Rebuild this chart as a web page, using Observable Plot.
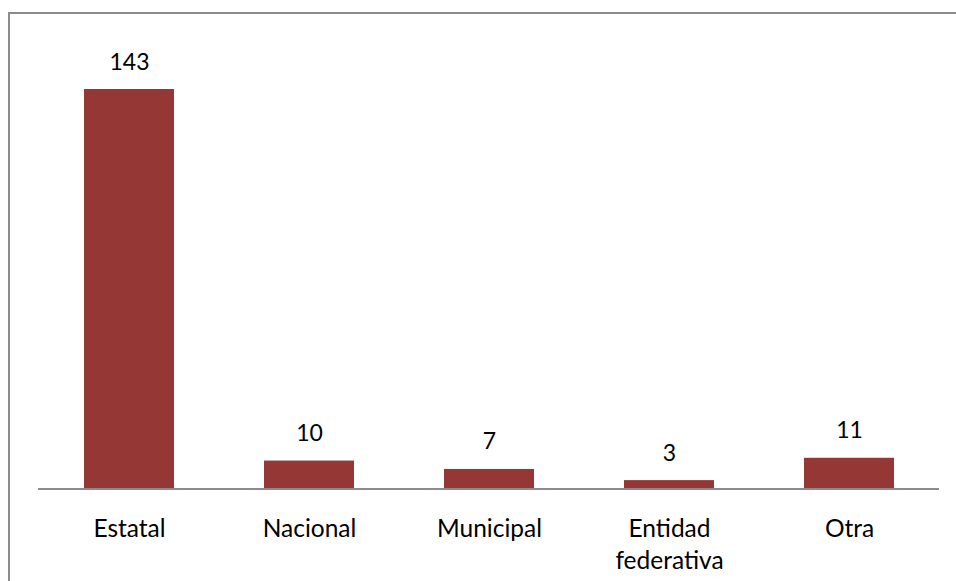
<!DOCTYPE html>
<html>
<head>
<meta charset="utf-8">
<script src="https://cdn.jsdelivr.net/npm/d3@7"></script>
<script src="https://cdn.jsdelivr.net/npm/@observablehq/plot@0.6"></script>
<style>
  html, body { margin: 0; padding: 0; background: #fff; overflow: hidden; }
  #wrap { position: relative; width: 956px; height: 581px; overflow: hidden; }
  #frame { position: absolute; left: 8px; top: 12px; width: 1000px; height: 1000px; border: 2px solid #8c8c8c; box-sizing: border-box; }
  #chart { position: absolute; left: 0; top: 0; }
</style>
</head>
<body>
<div id="wrap">
  <div id="frame"></div>
  <div id="chart"></div>
</div>
<script>
const categories = ["Estatal", "Nacional", "Municipal", "Entidad federativa", "Otra"];
const values = [143, 10, 7, 3, 11];
const tickLabels = {"Entidad federativa": "Entidad\nfederativa"};

const data = categories.map((c, i) => ({category: c, value: values[i]}));
const font = "Lato, 'Noto Sans', sans-serif";

const chart = Plot.plot({
  width: 956,
  height: 581,
  marginLeft: 38,
  marginRight: 17,
  marginTop: 89,
  marginBottom: 92.5,
  style: {fontFamily: font, fontSize: "24px", color: "#000", background: "transparent"},
  x: {domain: categories, paddingInner: 0.5, paddingOuter: 0.25},
  y: {domain: [0, 143], axis: null},
  marks: [
    Plot.barY(data, {x: "category", y: "value", fill: "#953735"}),
    Plot.ruleY([0], {stroke: "#8c8c8c", strokeWidth: 2}),
    Plot.text(data, {x: "category", y: "value", text: d => String(d.value), lineAnchor: "bottom", dy: -20, fontSize: 23, fill: "#000"}),
    Plot.axisX({tickSize: 0, tickPadding: 25.5, fontSize: 24.5, lineHeight: 1.31, tickFormat: d => tickLabels[d] ?? d, label: null, fill: "#000"})
  ]
});
document.getElementById("chart").appendChild(chart);
</script>
</body>
</html>
